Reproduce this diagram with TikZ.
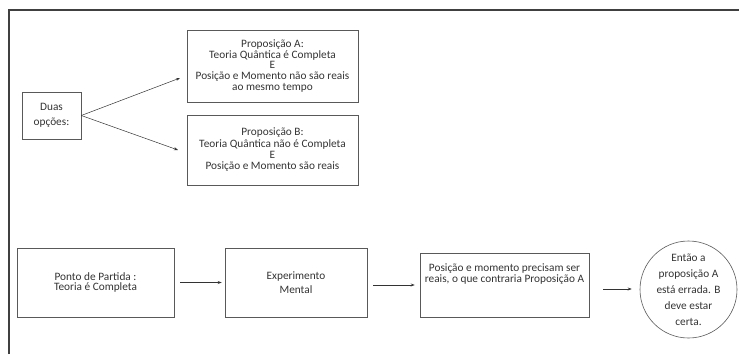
\documentclass[tikz,border=0pt]{standalone}
\usepackage{fontspec}
\setmainfont{Carlito}
\usetikzlibrary{calc,arrows.meta}

\tikzset{
  box/.style={draw=black!65, line width=0.6pt, align=center, inner sep=2pt,
    text=black!80, font=\fontsize{11.3}{10.8}\selectfont},
  arr/.style={-{Stealth[length=4pt,width=3pt]}, line width=0.5pt, draw=black!80},
  thickarr/.style={arr, line width=1pt}
}

\begin{document}
\begin{tikzpicture}[x=1pt,y=-1pt]

\useasboundingbox (0,0) rectangle (739,354);

% Frame (top and left edge)
\draw[line width=1.1pt, black!75] (9,354) -- (9,10) -- (739,10);

% Two options
\node[box, minimum width=59, minimum height=47, font=\fontsize{11.3}{15}\selectfont] (duas) at (51.5,115.5) {Duas\\opções:};
\node[box, minimum width=171, minimum height=72] (propA) at (272.5,66)
  {Proposição A:\\Teoria Quântica é Completa\\E\\Posição e Momento não são reais\\ao mesmo tempo};
\node[box, minimum width=171, minimum height=70, font=\fontsize{11.3}{11.3}\selectfont] (propB) at (272.5,150)
  {Proposição B:\\Teoria Quântica não é Completa\\E\\Posição e Momento são reais};

% Arrow ends in front of the boxes
\coordinate (tipA) at (180,78);
\coordinate (tipB) at (178,150);

\draw[arr] (duas.east) -- (tipA);
\draw[arr] (duas.east) -- (tipB);

% Chain of reasoning
\node[box, minimum width=157, minimum height=69] (ponto) at (95.5,282.5)
  {Ponto de Partida :\\Teoria é Completa};
\node[box, minimum width=142, minimum height=69, font=\fontsize{11.3}{14}\selectfont] (exp) at (296,282.5)
  {Experimento\\Mental};
\node[box, minimum width=169, minimum height=64] (pos) at (504.5,285)
  {Posição e momento precisam ser\\reais, o que contraria Proposição A\\[13pt]\mbox{}};
\node[box, circle, minimum size=97, inner sep=-14pt, font=\fontsize{11.3}{16}\selectfont] (concl) at (688.5,289.5)
  {Então a\\proposição A\\está errada. B\\deve estar\\certa.};

\draw[thickarr, shorten <=6pt, shorten >=3pt] (ponto.east) -- (exp.west);
\draw[thickarr, shorten <=6pt, shorten >=5pt] ([yshift=-2.5pt]exp.east) -- ([yshift=-2.5pt]exp.east -| pos.west);
\draw[arr, shorten <=14pt, shorten >=8pt] ([yshift=-4pt]pos.east) -- ([yshift=-4pt]pos.east -| concl.west);

\end{tikzpicture}
\end{document}
